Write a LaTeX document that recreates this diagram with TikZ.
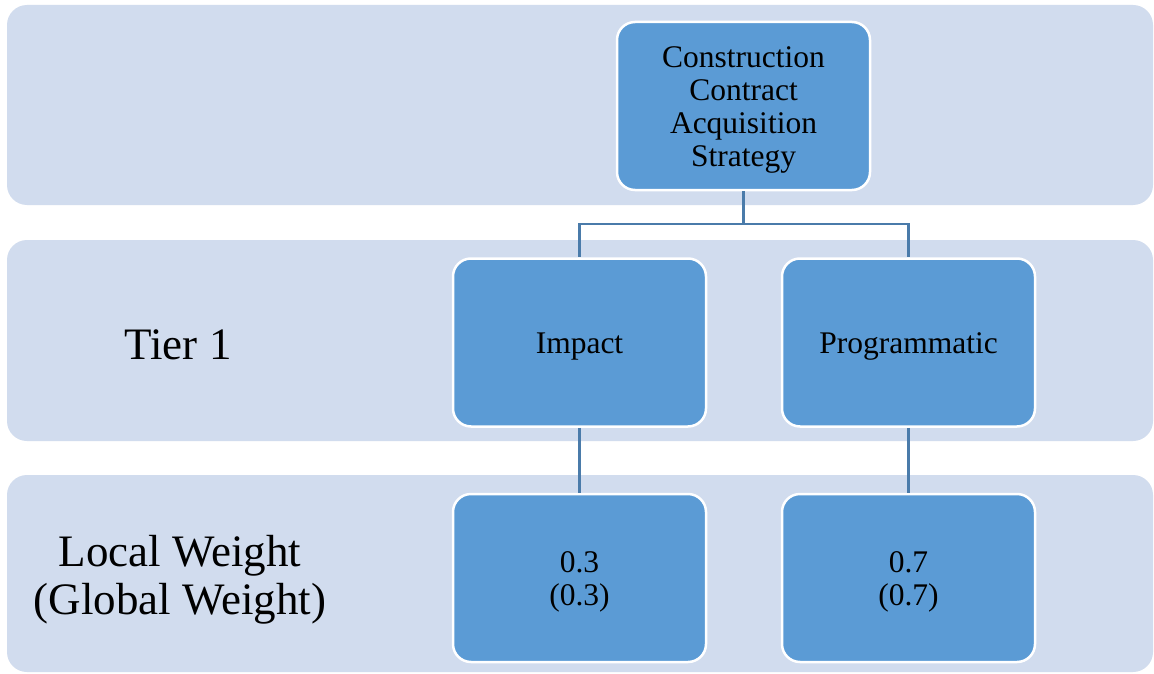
\documentclass[tikz,border=0pt]{standalone}
\usepackage{fontspec}
\setmainfont{Liberation Serif}
\definecolor{bandfill}{HTML}{D1DCEE}
\definecolor{boxfill}{HTML}{5B9BD5}
\definecolor{connc}{HTML}{4A7BAA}
\tikzset{
  band/.style={fill=bandfill, draw=none, rounded corners=20pt},
  hbox/.style={rectangle, rounded corners=18pt, fill=boxfill, draw=white, line width=2.5pt,
    minimum width=253pt, minimum height=168pt, inner sep=0pt},
  boxtext/.style={align=center, inner sep=0pt, yshift=-4pt,
    font=\fontsize{31.5}{33}\selectfont},
  tierlabel/.style={align=center, inner sep=0pt, font=\fontsize{45}{48}\selectfont},
  conn/.style={draw=connc, line width=2.5pt}
}
\begin{document}
\begin{tikzpicture}[x=1pt,y=-1pt]
\useasboundingbox (0,0) rectangle (1154,674);
\fill[white] (0,0) rectangle (1154,674);
\path[band] (7,5) rectangle (1153,205);
\path[band] (7,240) rectangle (1153,441);
\path[band] (7,475) rectangle (1153,672);

\node[tierlabel] (t1) at (178,345) {Tier 1};
\node[tierlabel] (lw) at (180,580) {Local Weight\\(Global Weight)};

\node[hbox, label={[boxtext]center:{Construction\\Contract\\Acquisition\\Strategy}}] (top) at (743.5,106) {};
\node[hbox, label={[boxtext]center:Impact}] (impact) at (579.5,342.5) {};
\node[hbox, label={[boxtext]center:Programmatic}] (prog) at (908.5,342.5) {};
\node[hbox, label={[boxtext]center:{0.3\\(0.3)}}] (w1) at (579.5,578) {};
\node[hbox, label={[boxtext]center:{0.7\\(0.7)}}] (w2) at (908.5,578) {};

\coordinate (j) at (743.5,224);
\draw[conn] (top.south) -- (j);
\draw[conn] (j) -| (impact.north);
\draw[conn] (j) -| (prog.north);
\draw[conn] (impact.south) -- (w1.north);
\draw[conn] (prog.south) -- (w2.north);
\end{tikzpicture}
\end{document}
